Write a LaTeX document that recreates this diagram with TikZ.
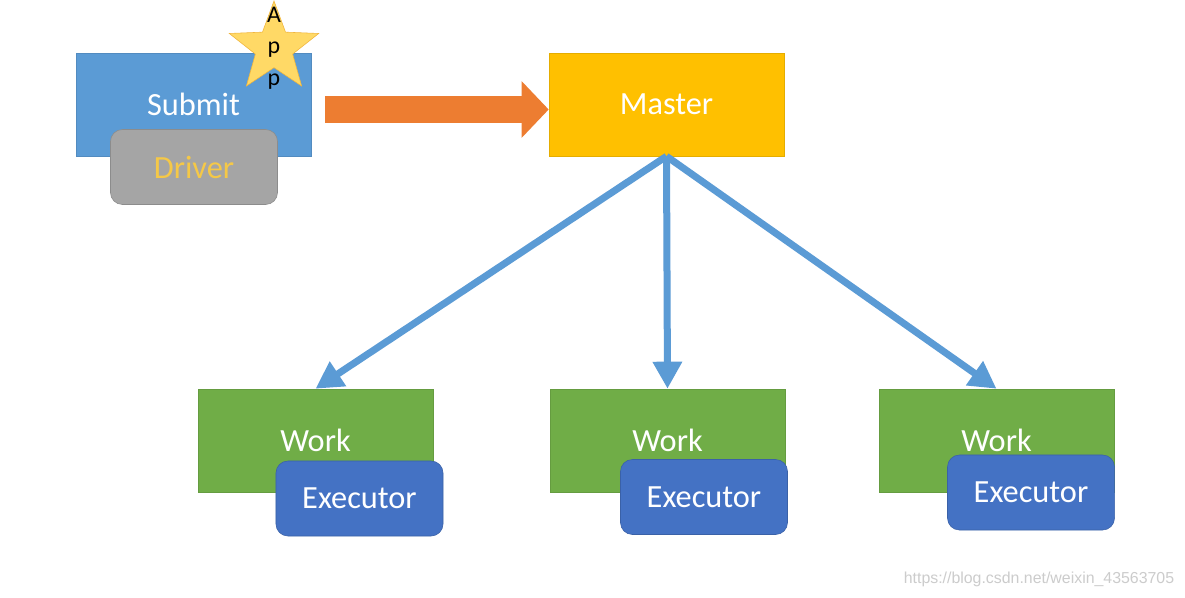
\documentclass[tikz,border=0pt]{standalone}
\usepackage{fontspec}
\setmainfont{Carlito}
\newfontfamily\urlfont{Liberation Sans}
\usetikzlibrary{arrows.meta,shapes,positioning}
\definecolor{submitblue}{HTML}{5B9BD5}
\definecolor{drivergray}{HTML}{A5A5A5}
\definecolor{driveryellow}{HTML}{F5C847}
\definecolor{staryellow}{HTML}{FFD966}
\definecolor{starline}{HTML}{F0B53C}
\definecolor{pushorange}{HTML}{ED7D31}
\definecolor{mastergold}{HTML}{FFC000}
\definecolor{workgreen}{HTML}{70AD47}
\definecolor{execblue}{HTML}{4472C4}

\begin{document}
\begin{tikzpicture}[x=0.025cm, y=-0.025cm,
        every node/.style={
                inner sep=0pt,
                text=white,
                font=\fontsize{23}{27}\selectfont
            },
        block/.style={
                rectangle,
                minimum width=5.875cm,
                minimum height=2.575cm,
                thin
            },
        submitbox/.style={block, fill=submitblue, draw=submitblue!90!black},
        masterbox/.style={block, fill=mastergold, draw=mastergold!90!black},
        workbox/.style={block, fill=workgreen, draw=workgreen!90!black},
        roundbox/.style={
                rectangle,
                rounded corners=0.3cm,
                minimum width=4.175cm,
                minimum height=1.875cm,
                thin
            },
        driverbox/.style={roundbox, fill=drivergray, draw=drivergray!85!black, text=driveryellow},
        execbox/.style={roundbox, fill=execblue, draw=execblue!85!black},
        appstar/.style={
                star,
                star points=5,
                star point ratio=2.4,
                minimum size=2.35cm,
                fill=staryellow,
                draw=starline,
                thin
            },
        applabel/.style={
                text=black,
                align=center,
                font=\fontsize{17}{22.5}\selectfont
            },
        push/.style={
                draw=pushorange,
                line width=0.65cm,
                -{Triangle[length=0.675cm, width=1.375cm]}
            },
        link/.style={
                draw=submitblue,
                line width=0.175cm,
                -{Triangle[length=0.675cm, width=0.7cm]}
            },
        watermark/.style={
                text=gray!40,
                font=\urlfont\fontsize{11.3}{13}\selectfont
            }
    ]
    \useasboundingbox (0,0) rectangle (1185,598);
    \fill[white] (0,0) rectangle (1185,598);

    %client side
    \node[submitbox] (submit) at (193.5,104.5) {Submit};
    \node[driverbox] (driver) at (194,167) {Driver};
    \node[appstar, label={[applabel]center:A\\p\\p}] (app) at (274,48) {};

    %cluster manager
    \node[masterbox] (master) at (666.5,104.5) {Master};

    %workers
    \node[workbox] (work1) at (315.5,440.5) {Work};
    \node[workbox] (work2) at (667.5,440.5) {Work};
    \node[workbox] (work3) at (996.5,440.5) {Work};
    \node[execbox] (exec1) at (359.5,498.5) {Executor};
    \node[execbox] (exec2) at (704,497) {Executor};
    \node[execbox] (exec3) at (1031,492.5) {Executor};

    %arrows
    \draw[push] ([shift={(14,5)}]submit.east) -- ([shift={(0,5)}]master.west);
    \foreach \w in {work1,work2,work3}
        \draw[link] (master.south) -- (\w.north);

    \node[watermark] (url) at (1039,579) {https://blog.csdn.net/weixin\_43563705};
\end{tikzpicture}
\end{document}
